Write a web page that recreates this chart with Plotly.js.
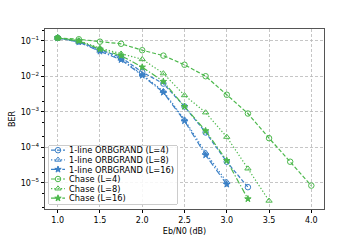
<!DOCTYPE html>
<html><head><meta charset="utf-8">
<script src="https://cdn.plot.ly/plotly-3.0.1.min.js"></script>
<style>html,body{margin:0;padding:0;background:#fff}#c{width:360px;height:240px}</style>
</head><body><div id="c"></div>
<script>
const snr = [1.0,1.25,1.5,1.75,2.0,2.25,2.5,2.75,3.0,3.25,3.5,3.75,4.0];
const orb4 = [0.12,0.095,0.056,0.034,0.013,0.0062,0.0014,2.6e-4,3.9e-5,7.5e-6];
const orb8 = [0.12,0.093,0.052,0.031,0.011,0.0038,6.0e-4,7.0e-5,1.05e-5];
const orb16 = [0.12,0.092,0.050,0.029,0.0105,0.0035,5.5e-4,6.0e-5,9.0e-6];
const chase4 = [0.12,0.11,0.094,0.082,0.054,0.038,0.021,0.010,0.003,8.9e-4,1.8e-4,3.9e-5,8.3e-6];
const chase8 = [0.12,0.10,0.062,0.043,0.030,0.012,0.0029,9.5e-4,1.95e-4,2.5e-5,3.1e-6];
const chase16 = [0.12,0.098,0.058,0.038,0.018,0.0071,0.0014,2.9e-4,4.2e-5,3.5e-6];
const names = ['1-line ORBGRAND (L=4)','1-line ORBGRAND (L=8)','1-line ORBGRAND (L=16)','Chase (L=4)','Chase (L=8)','Chase (L=16)'];
const yTicks = [1e-5,1e-4,1e-3,1e-2,1e-1];
const yTickText = ['10<sup>−5</sup>','10<sup>−4</sup>','10<sup>−3</sup>','10<sup>−2</sup>','10<sup>−1</sup>'];
const xTicks = [1.0,1.5,2.0,2.5,3.0,3.5,4.0];

const blue = '#3b80c6', green = '#4cb84c';
const series = [orb4, orb8, orb16, chase4, chase8, chase16];
const colors = [blue, blue, blue, green, green, green];
const dashes = ['4px,2px','1.3px,2px','6px,2px,1.3px,2px','4px,2px','1.3px,2px','6px,2px,1.3px,2px'];
const symbols = ['circle-open','triangle-up-open','star','circle-open','triangle-up-open','star'];

const traces = series.map((ys, i) => ({
  x: snr.slice(0, ys.length), y: ys, name: names[i], type: 'scatter', mode: 'lines+markers',
  line: {color: colors[i], dash: dashes[i], width: 1.2},
  marker: {symbol: symbols[i], size: symbols[i]==='star' ? 4.8 : 5.5, color: colors[i], line: {color: colors[i], width: 1}}
}));

const layout = {
  width: 360, height: 240,
  margin: {l: 45, r: 36, t: 29, b: 31},
  paper_bgcolor: '#fff', plot_bgcolor: '#fff',
  font: {family: 'DejaVu Sans', size: 8, color: '#000'},
  showlegend: true,
  legend: {x: 0.012, y: 0.02, xanchor: 'left', yanchor: 'bottom', bgcolor: 'rgba(255,255,255,0.85)',
    bordercolor: '#cccccc', borderwidth: 1, font: {size: 8.3, family: 'DejaVu Sans', color: '#000'}, tracegroupgap: 0},
  xaxis: {range: [0.85, 4.15], tickvals: xTicks, ticktext: xTicks.map(v => v.toFixed(1)),
    showgrid: true, gridcolor: '#b8b8b8', griddash: '3px,2px', gridwidth: 0.8,
    ticks: 'outside', ticklen: 3, tickcolor: '#000', showline: true, linecolor: '#555', linewidth: 1.2, mirror: true,
    zeroline: false, title: {text: 'Eb/N0 (dB)', font: {size: 8}, standoff: 4}},
  yaxis: {type: 'log', range: [-5.74, -0.67], tickvals: yTicks, ticktext: yTickText,
    showgrid: true, gridcolor: '#b8b8b8', griddash: '3px,2px', gridwidth: 0.8,
    ticks: 'outside', ticklen: 3, tickcolor: '#000', showline: true, linecolor: '#555', linewidth: 1.2, mirror: true,
    zeroline: false, title: {text: 'BER', font: {size: 8}, standoff: 4},
    minor: {ticks: 'outside', ticklen: 1.5, tickcolor: '#000', showgrid: false}}
};
Plotly.newPlot('c', traces, layout, {staticPlot: true, displayModeBar: false}).then(gd => {
  try {
    const leg = gd.querySelector('g.legend');
    if (!leg) return;
    const items = leg.querySelectorAll('g.traces');
    const rowH = 9.6, top = 5.2;
    let maxW = 0;
    items.forEach((it, i) => {
      it.setAttribute('transform', 'translate(1,' + (top + i * rowH) + ')');
      it.querySelectorAll('.legendlines path').forEach(p => p.setAttribute('d', 'M2,0h14'));
      it.querySelectorAll('.legendpoints path').forEach(p => p.setAttribute('transform', 'translate(9,0)'));
      const t = it.querySelector('text.legendtext');
      if (t) {
        t.setAttribute('x', 20);
        t.querySelectorAll('tspan').forEach(s => { if (s.hasAttribute('x')) s.setAttribute('x', 20); });
        maxW = Math.max(maxW, t.getBBox().width);
      }
    });
    const bg = leg.querySelector('rect.bg');
    const W = 20 + maxW + 4, H = items.length * rowH + 1.5;
    if (bg) {
      bg.setAttribute('width', W); bg.setAttribute('height', H);
      bg.setAttribute('rx', 2); bg.setAttribute('ry', 2);
    }
    leg.querySelectorAll('clipPath rect').forEach(r => { r.setAttribute('width', W); r.setAttribute('height', H); });
    leg.setAttribute('transform', 'translate(48,145)');
  } catch (e) {}
});
</script></body></html>
